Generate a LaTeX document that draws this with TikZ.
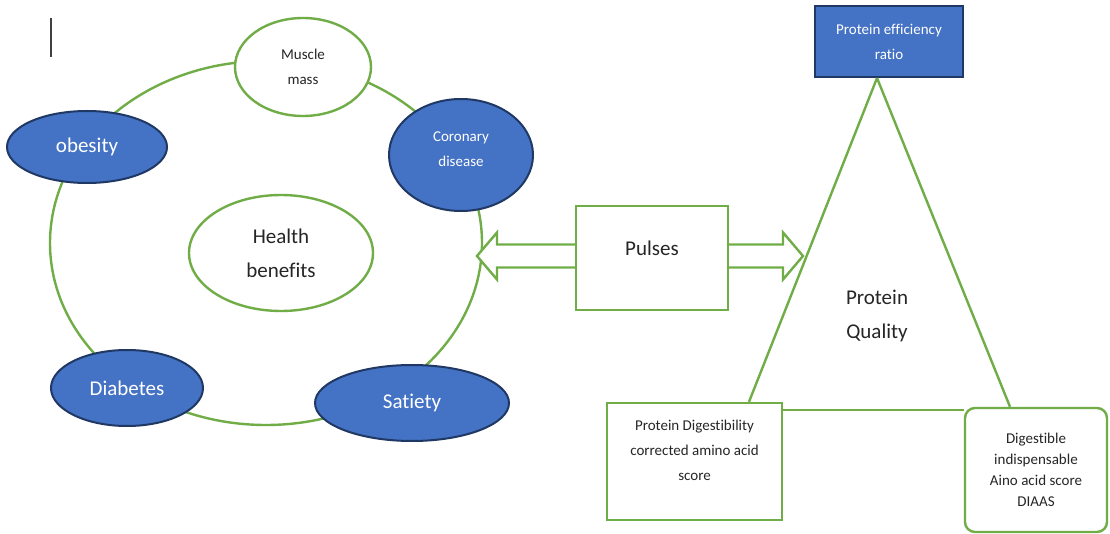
\documentclass[tikz,border=0pt]{standalone}
\usepackage{fontspec}
\setmainfont{Carlito}[Ligatures=NoCommon]
\usetikzlibrary{calc,shapes.geometric}

\definecolor{leaf}{HTML}{70AD47}
\definecolor{cobalt}{HTML}{4472C4}
\definecolor{navy}{HTML}{203864}
\definecolor{ink}{HTML}{262626}

\tikzset{
  big/.style={font={\fontsize{21}{34}\selectfont},text=ink,align=center,inner sep=0pt},
  small/.style={font={\fontsize{15}{25}\selectfont},text=ink,align=center,inner sep=0pt},
  greenline/.style={draw=leaf,line width=2.4pt},
  openoval/.style={ellipse,greenline,fill=white,inner sep=0pt},
  blueoval/.style={ellipse,draw=navy,line width=2pt,fill=cobalt,text=white,inner sep=0pt,align=center},
  greenbox/.style={rectangle,greenline,fill=white,inner sep=0pt},
  blockarrow/.style={greenline,fill=white,line join=miter},
}

\begin{document}
\begin{tikzpicture}[x=1pt,y=-1pt]
\useasboundingbox (0,0) rectangle (1110,534);
\fill[white] (0,0) rectangle (1110,534);

% text cursor mark in the corner
\coordinate (barTop) at (51,18);
\coordinate (barBot) at (51,57);
\draw[line width=1.6pt,black!75] (barTop) -- (barBot);

% ring of health benefits
\node[ellipse,greenline,minimum width=432pt,minimum height=364pt,inner sep=0pt] (ring) at (266,243) {};

\node[openoval,minimum width=136pt,minimum height=98pt,small] (muscle) at (303,67) {Muscle\\mass};
\node[blueoval,minimum width=160pt,minimum height=72pt,font={\fontsize{21}{34}\selectfont}] (obesity) at (87,147) {obesity};
\node[blueoval,minimum width=144pt,minimum height=112pt] (coronary) at (461,155) {};
\node[inner sep=0pt,text=white,align=center,font={\fontsize{15}{25}\selectfont}] (coronaryText)
  at ($(coronary.center)+(0,-5.5)$) {Coronary\\disease};
\node[openoval,minimum width=184pt,minimum height=116pt,big] (health) at (281,253) {Health\\benefits};
\node[blueoval,minimum width=152pt,minimum height=76pt,font={\fontsize{21}{34}\selectfont}] (diabetes) at (127,388) {Diabetes};
\node[blueoval,minimum width=194pt,minimum height=76pt,font={\fontsize{21}{34}\selectfont}] (satiety) at (412,403) {Satiety};

% pulses in the middle
\node[greenbox,minimum width=152pt,minimum height=104pt] (pulses) at (652,258) {};
\node[big] (pulsesText) at ($(pulses.center)+(0,-10)$) {Pulses};

% double block arrows leaving the pulses box
\coordinate (leftTip) at (477,256);
\coordinate (leftBase) at (pulses.west |- leftTip);
\draw[blockarrow] ($(leftBase)+(0,-11.5)$) -- ($(leftTip)+(20,-11.5)$) -- ($(leftTip)+(20,-23.5)$)
  -- (leftTip) -- ($(leftTip)+(20,23.5)$) -- ($(leftTip)+(20,11.5)$) -- ($(leftBase)+(0,11.5)$);
\coordinate (rightTip) at (803,256);
\coordinate (rightBase) at (pulses.east |- rightTip);
\draw[blockarrow] ($(rightBase)+(0,-11.5)$) -- ($(rightTip)+(-20,-11.5)$) -- ($(rightTip)+(-20,-23.5)$)
  -- (rightTip) -- ($(rightTip)+(-20,23.5)$) -- ($(rightTip)+(-20,11.5)$) -- ($(rightBase)+(0,11.5)$);

% protein quality triangle
\node[rectangle,draw=navy,line width=2pt,fill=cobalt,minimum width=148pt,minimum height=71pt,inner sep=0pt,
      text=white,align=center,font={\fontsize{15}{25}\selectfont}] (per) at (889,41.5) {Protein efficiency\\ratio};
\node[greenbox,minimum width=175pt,minimum height=117pt] (pdc) at (694.5,461.5) {};
\node[small] (pdcText) at ($(pdc.center)+(0,-11)$) {Protein Digestibility\\corrected amino acid\\score};
\node[greenbox,rounded corners=10pt,minimum width=142pt,minimum height=124pt,
      font={\fontsize{15}{21}\selectfont},text=ink,align=center] (diaas) at (1036,470)
      {Digestible\\indispensable\\Aino acid score\\DIAAS};

\coordinate (apex) at ($(per.south)+(-12,0)$);
\draw[greenline] (apex) -- ($(pdc.north)+(54.5,0)$);
\draw[greenline] (apex) -- ($(diaas.north)+(-26,0)$);
\coordinate (baseStart) at ($(pdc.north east)+(0,8)$);
\coordinate (baseEnd) at (diaas.west |- baseStart);
\draw[greenline] (baseStart) -- (baseEnd);

\node[big] (quality) at (877,315.5) {Protein\\Quality};
\end{tikzpicture}
\end{document}
